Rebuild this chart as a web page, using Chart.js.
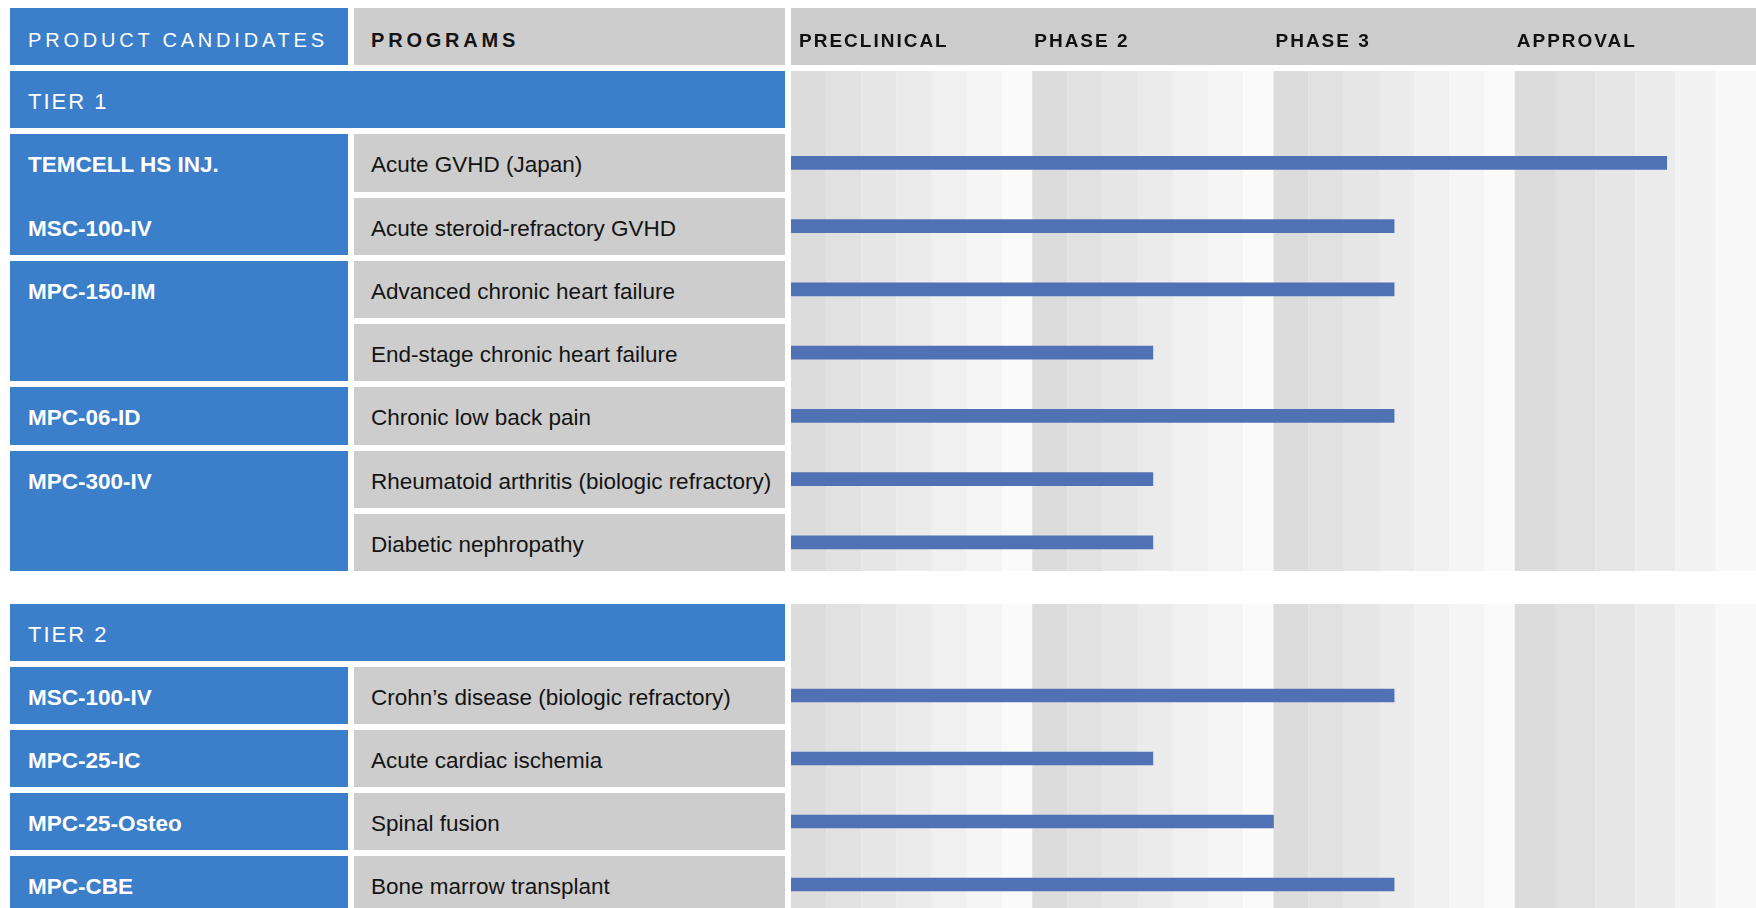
<!DOCTYPE html>
<html>
<head>
<meta charset="utf-8">
<title>Pipeline</title>
<script src="https://cdn.jsdelivr.net/npm/chart.js@4.4.0/dist/chart.umd.min.js"></script>
<style>
  html, body { margin: 0; padding: 0; background: #fff; overflow: hidden; }
  body { width: 1756px; height: 908px; position: relative; font-family: "Liberation Sans", Arial, sans-serif; }
  .cell { position: absolute; box-sizing: border-box; display: flex; align-items: center; padding-top: 5px; white-space: nowrap; }
  .blue { background: #3b7ec9; color: #fff; padding-left: 18px; }
  .grey { background: #cdcdcd; color: #141414; padding-left: 17px; font-size: 22.5px; }
  .name { color: #fff; padding-left: 18px; font-size: 22.5px; font-weight: bold; }
  .head { font-size: 20px; letter-spacing: 3.8px; padding-top: 8px; }
  .tier { font-size: 22px; letter-spacing: 2px; }
  .chartbox { position: absolute; left: 791px; width: 965px; }
</style>
</head>
<body>
<div class="chartbox" style="top:8px;height:566px"><canvas id="chart-tier1"></canvas></div>
<div class="chartbox" style="top:601px;height:315px"><canvas id="chart-tier2"></canvas></div>

<script>
// stages on x: 0 = preclinical start, 1 = phase 2, 2 = phase 3, 3 = approval, 4 = end
var phases = ['PRECLINICAL', 'PHASE 2', 'PHASE 3', 'APPROVAL'];

var tier1Products = ['TEMCELL HS INJ.', 'MSC-100-IV', 'MPC-150-IM', '', 'MPC-06-ID', 'MPC-300-IV', ''];
var tier1Groups = [2, 2, 1, 2];
var tier1Programs = ['Acute GVHD (Japan)', 'Acute steroid-refractory GVHD', 'Advanced chronic heart failure',
                     'End-stage chronic heart failure', 'Chronic low back pain',
                     'Rheumatoid arthritis (biologic refractory)', 'Diabetic nephropathy'];
var tier1Stage = [3.63, 2.5, 2.5, 1.5, 2.5, 1.5, 1.5];

var tier2Products = ['MSC-100-IV', 'MPC-25-IC', 'MPC-25-Osteo', 'MPC-CBE'];
var tier2Groups = [1, 1, 1, 1];
var tier2Programs = ['Crohn\u2019s disease (biologic refractory)', 'Acute cardiac ischemia', 'Spinal fusion',
                     'Bone marrow transplant'];
var tier2Stage = [2.5, 1.5, 2.0, 2.5];

// shading of the stripes inside each phase column
var shadeStops = [0, 35, 70, 105, 140, 175, 210, 240];
var shades = ['#dcdcdc', '#e1e1e1', '#e6e6e6', '#ebebeb', '#f0f0f0', '#f5f5f5', '#fafafa'];
var lastStops = [0, 40, 80, 120, 160, 200, 240];
var lastShades = ['#dcdcdc', '#e1e1e1', '#e6e6e6', '#ebebeb', '#f2f2f2', '#f8f8f8'];

function box(cls, x, y, w, h, text) {
	var d = document.createElement('div');
	d.className = 'cell ' + cls;
	d.style.left = x + 'px';
	d.style.top = y + 'px';
	d.style.width = w + 'px';
	d.style.height = h + 'px';
	if (text) d.textContent = text;
	document.body.appendChild(d);
	return d;
}

function buildTier(top, pitch, label, products, groups, programs) {
	var h = pitch - 6;
	box('blue tier', 10, top, 775, h, label);
	var r = 0;
	groups.forEach(function(span) {
		box('blue', 10, top + pitch * (r + 1), 338, pitch * span - 6);
		r += span;
	});
	products.forEach(function(name, i) {
		if (name) box('name', 10, top + pitch * (i + 1), 338, h, name);
	});
	programs.forEach(function(name, i) {
		box('grey', 354, top + pitch * (i + 1), 431, h, name);
	});
}

box('blue head', 10, 8, 338, 57, 'PRODUCT CANDIDATES');
box('grey head', 354, 8, 431, 57, 'PROGRAMS').style.fontWeight = 'bold';
buildTier(71, 63.25, 'TIER 1', tier1Products, tier1Groups, tier1Programs);
buildTier(604, 63, 'TIER 2', tier2Products, tier2Groups, tier2Programs);

var phasePlugin = {
	id: 'phaseStripes',
	beforeDatasetsDraw: function(chart, args, opts) {
		var ctx = chart.ctx, a = chart.chartArea, xs = chart.scales.x;
		var top = a.top + 3, bottom = a.bottom - 3;
		ctx.save();
		for (var p = 0; p < phases.length; p++) {
			var x0 = xs.getPixelForValue(p), x1 = xs.getPixelForValue(p + 1);
			var stops = p < 3 ? shadeStops : lastStops;
			var cols = p < 3 ? shades : lastShades;
			var full = stops[stops.length - 1];
			for (var j = 0; j < cols.length; j++) {
				var s0 = x0 + (x1 - x0) * stops[j] / full;
				var s1 = x0 + (x1 - x0) * stops[j + 1] / full;
				ctx.fillStyle = cols[j];
				ctx.fillRect(s0, top, s1 - s0, bottom - top);
			}
		}
		if (opts.header) {
			ctx.fillStyle = '#cccccc';
			ctx.fillRect(a.left, 0, a.right - a.left, a.top - 3);
			ctx.font = 'bold 19px "Liberation Sans", Arial, sans-serif';
			ctx.letterSpacing = '2px';
			ctx.fillStyle = '#111111';
			ctx.textBaseline = 'alphabetic';
			ctx.textAlign = 'left';
			phases.forEach(function(ph, i) {
				var x = Math.max(xs.getPixelForValue(i) + 2, a.left + 8);
				ctx.fillText(ph, x, 39);
			});
		}
		ctx.restore();
	}
};

function tierChart(id, label, programs, stage, header) {
	return new Chart(document.getElementById(id), {
		type: 'bar',
		data: {
			labels: [label].concat(programs),
			datasets: [{
				data: [null].concat(stage),
				backgroundColor: '#5072b4',
				borderWidth: 0,
				barThickness: 13
			}]
		},
		options: {
			indexAxis: 'y',
			responsive: true,
			maintainAspectRatio: false,
			animation: false,
			devicePixelRatio: 1,
			layout: { padding: { top: header ? 60 : 0 } },
			scales: {
				x: { type: 'linear', min: 0, max: 4, display: false },
				y: { display: false }
			},
			plugins: {
				legend: { display: false },
				tooltip: { enabled: false },
				phaseStripes: { header: header }
			}
		},
		plugins: [phasePlugin]
	});
}

tierChart('chart-tier1', 'TIER 1', tier1Programs, tier1Stage, true);
tierChart('chart-tier2', 'TIER 2', tier2Programs, tier2Stage, false);
</script>
</body>
</html>
